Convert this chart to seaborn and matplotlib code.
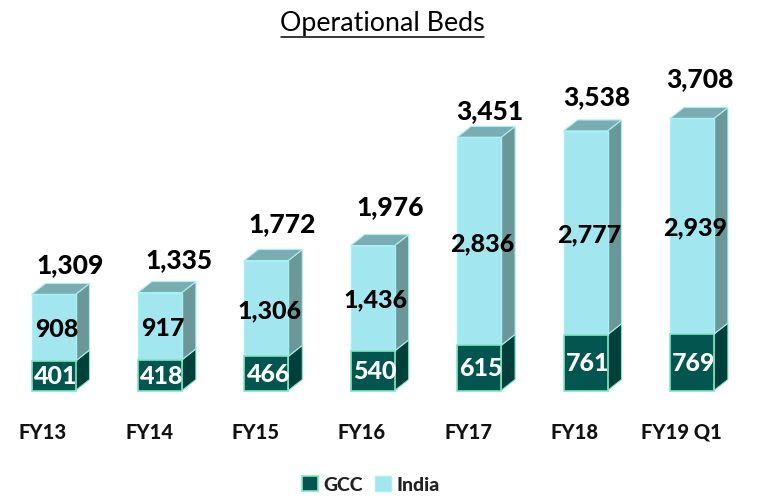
import matplotlib
matplotlib.use("Agg")

import matplotlib.pyplot as plt
from matplotlib.patches import Patch, Polygon
import pandas as pd
import seaborn as sns

years = ['FY13', 'FY14', 'FY15', 'FY16', 'FY17', 'FY18', 'FY19 Q1']
gcc = [401, 418, 466, 540, 615, 761, 769]
india = [908, 917, 1306, 1436, 2836, 2777, 2939]
totals = [1309, 1335, 1772, 1976, 3451, 3538, 3708]

# Colours
GCC_FRONT = '#03564f'
GCC_SIDE = '#003f3a'
GCC_EDGE = '#7fe8c0'
IND_FRONT = '#a2e7ef'
IND_SIDE = '#6c9799'
IND_TOP = '#7aadb3'
IND_EDGE = '#a8f0f2'

# Pixel mapping: the axes fill the figure
W, H = 757, 498
PX_X = 106.4
PX_Y = 272 / 3708
X0 = 53.5
BASE = 390.5
BAR_W = 44 / PX_X
DX = 14 / PX_X
DY = 11 / PX_Y

# nudges of the total labels from the bar top, in px
total_gap = [29, 32, 36, 38, 26, 34, 39]
total_shift = [17, 19, 16, 18, 11, 11, 8]

sns.set_theme(style='white')
plt.rcParams['font.family'] = ['Lato', 'DejaVu Sans']

df = pd.DataFrame({'year': years, 'gcc': gcc, 'india': india})

fig = plt.figure(figsize=(W / 100, H / 100), dpi=100)
ax = fig.add_axes([0, 0, 1, 1])

sns.barplot(data=df, x='year', y='india', bottom=df['gcc'], color=IND_FRONT, width=BAR_W,
            saturation=1, edgecolor=IND_EDGE, linewidth=1, ax=ax, zorder=3)
sns.barplot(data=df, x='year', y='gcc', color=GCC_FRONT, width=BAR_W,
            saturation=1, edgecolor=GCC_EDGE, linewidth=1.2, ax=ax, zorder=3)

ax.set_xlim(-X0 / PX_X, (W - X0) / PX_X)
ax.set_ylim((BASE - H) / PX_Y, BASE / PX_Y)
ax.set_axis_off()

for i, (g, n, t) in enumerate(zip(gcc, india, totals)):
    l = i - BAR_W / 2
    r = i + BAR_W / 2
    # side faces and top face of the fake 3d box
    ax.add_patch(Polygon([(r, 0), (r + DX, DY), (r + DX, g + DY), (r, g)],
                         fc=GCC_SIDE, ec=GCC_EDGE, lw=0.8, zorder=2))
    ax.add_patch(Polygon([(r, g), (r + DX, g + DY), (r + DX, t + DY), (r, t)],
                         fc=IND_SIDE, ec=IND_EDGE, lw=0.8, zorder=2))
    ax.add_patch(Polygon([(l, t), (l + DX, t + DY), (r + DX, t + DY), (r, t)],
                         fc=IND_TOP, ec=IND_EDGE, lw=0.8, zorder=2))

    ax.text(i + 0.02, g / 2 - 1 / PX_Y, f'{g:,}', color='white', fontsize=18, fontweight=900,
            ha='center', va='center', zorder=5)
    ax.text(i + 0.03, g + n / 2 - 2 / PX_Y, f'{n:,}', color='black', fontsize=18, fontweight=900,
            ha='center', va='center', zorder=5)
    ax.text(i + total_shift[i] / PX_X, t + total_gap[i] / PX_Y, f'{t:,}', color='black', fontsize=19,
            fontweight=900, ha='center', va='center', zorder=5)
    ax.text(i - 0.1, (BASE - 432) / PX_Y, years[i], color='#111111', fontsize=14.5,
            fontweight=900, ha='center', va='center')

# title with underline
ax.text((382 - X0) / PX_X, (BASE - 23) / PX_Y, 'Operational Beds', color='black',
        fontsize=19.3, ha='center', va='center')
ax.plot([(281 - X0) / PX_X, (484 - X0) / PX_X], [(BASE - 37) / PX_Y] * 2, color='black', lw=1.1)

handles = [Patch(fc=GCC_FRONT, ec=GCC_EDGE, lw=1.2, label='GCC'),
           Patch(fc=IND_FRONT, ec=IND_EDGE, lw=1, label='India')]
ax.legend(handles=handles, loc='center', bbox_to_anchor=(371 / W, 1 - 485 / H), ncol=2,
          frameon=False, handlelength=0.8, handleheight=0.8, handletextpad=0.3,
          columnspacing=0.6, prop={'size': 14, 'weight': 900}, labelcolor='#222222')

fig.savefig('out.png', dpi=100)
plt.close(fig)
